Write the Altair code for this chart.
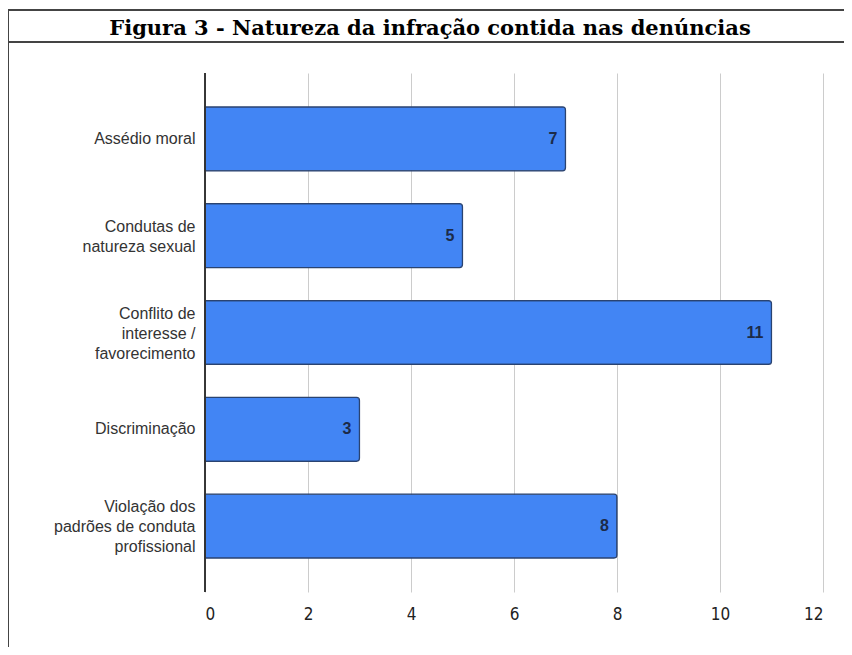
import altair as alt
import pandas as pd

title_text = "Figura 3 - Natureza da infração contida nas denúncias"
categories = [
    "Assédio moral",
    "Condutas de|natureza sexual",
    "Conflito de|interesse /|favorecimento",
    "Discriminação",
    "Violação dos|padrões de conduta|profissional",
]
values = [7, 5, 11, 3, 8]
x_ticks = [0, 2, 4, 6, 8, 10, 12]

df = pd.DataFrame({"cat": categories, "val": values})

W, H = 618, 519

base = alt.Chart(df).encode(
    y=alt.Y(
        "cat:N",
        sort=categories,
        title=None,
        scale=alt.Scale(paddingInner=0.34, paddingOuter=0.35),
        axis=alt.Axis(
            labelExpr="split(datum.label, '|')",
            labelFont="Liberation Sans",
            labelFontSize=16,
            labelColor="#333333",
            labelPadding=10,
            labelLineHeight=20,
            labelOffset={
                "condition": [
                    {"test": "length(split(datum.label, '|')) >= 3", "value": -19},
                    {"test": "length(split(datum.label, '|')) == 2", "value": -9},
                ],
                "value": 0,
            },
            ticks=False,
            domain=False,
            grid=False,
        ),
    ),
    x=alt.X(
        "val:Q",
        title=None,
        scale=alt.Scale(domain=[0, 12], nice=False),
        axis=alt.Axis(
            values=x_ticks,
            labelFont="Liberation Sans Narrow, DejaVu Sans Condensed, sans-serif",
            labelFontSize=17,
            labelColor="#222222",
            labelPadding=14,
            ticks=False,
            domain=False,
            grid=True,
            gridColor="#cccccc",
            gridWidth=1,
        ),
    ),
)

bars = base.mark_bar(
    color="#4285F4",
    stroke="#2a4370",
    strokeWidth=1.2,
    cornerRadiusTopRight=3,
    cornerRadiusBottomRight=3,
)

labels = base.mark_text(
    align="right",
    baseline="middle",
    dx=-8,
    font="Liberation Sans",
    fontWeight="bold",
    fontSize=16,
    color="#1c2b48",
).encode(text="val:Q")

zero_line = alt.Chart(df).mark_rule(color="#333333", strokeWidth=1).encode(
    x=alt.datum(0), y=alt.value(0), y2=alt.value(H)
)

frame = alt.Chart(df).mark_rect(
    fill=None, stroke="#444444", strokeWidth=2
).encode(
    x=alt.value(-197), x2=alt.value(W + 60), y=alt.value(-63), y2=alt.value(H + 100)
)

title_line = alt.Chart(df).mark_rule(color="#444444", strokeWidth=2).encode(
    x=alt.value(-197), x2=alt.value(W + 60), y=alt.value(-31)
)

title_mark = alt.Chart(pd.DataFrame({"t": [title_text]})).mark_text(
    font="DejaVu Serif",
    fontWeight="bold",
    fontSize=21,
    color="#000000",
    align="center",
    baseline="alphabetic",
).encode(text="t:N", x=alt.value(W / 2 - 84), y=alt.value(-38))

chart = (
    alt.layer(bars, labels, zero_line, frame, title_line, title_mark)
    .properties(
        width=W,
        height=H,
        padding={"left": 197, "top": 65, "right": 21, "bottom": 55},
        autosize=alt.AutoSizeParams(type="none"),
        background="white",
    )
    .configure_view(stroke=None)
)

chart.save("out.html", embed_options={"renderer": "svg", "actions": False})
